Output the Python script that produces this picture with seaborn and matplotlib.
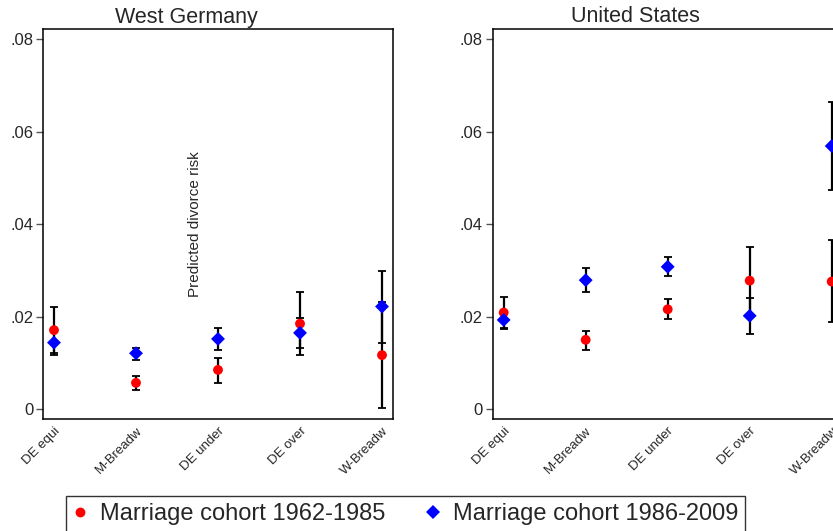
import pandas as pd
import numpy as np
from matplotlib import pyplot as plt
import seaborn as sb
import matplotlib
matplotlib.use('Agg')

categories = ["DE equi", "M-Breadw", "DE under", "DE over", "W-Breadw"]
cohorts = ["Marriage cohort 1962-1985", "Marriage cohort 1986-2009"]
countries = ["West Germany", "United States"]

# point estimates and 95% CI bounds
wg_early = [0.0171, 0.0057, 0.0085, 0.0185, 0.0117]
wg_early_lo = [0.0122, 0.0041, 0.0057, 0.0117, 0.0003]
wg_early_hi = [0.0220, 0.0072, 0.0111, 0.0253, 0.0231]
wg_late = [0.0144, 0.0121, 0.0152, 0.0165, 0.0222]
wg_late_lo = [0.0117, 0.0106, 0.0127, 0.0132, 0.0143]
wg_late_hi = [0.0171, 0.0133, 0.0176, 0.0198, 0.0299]

us_early = [0.0209, 0.0150, 0.0216, 0.0278, 0.0276]
us_early_lo = [0.0175, 0.0129, 0.0194, 0.0205, 0.0189]
us_early_hi = [0.0243, 0.0170, 0.0238, 0.0351, 0.0365]
us_late = [0.0193, 0.0279, 0.0308, 0.0202, 0.0569]
us_late_lo = [0.0174, 0.0253, 0.0288, 0.0163, 0.0475]
us_late_hi = [0.0212, 0.0305, 0.0329, 0.0240, 0.0664]

yticks = [0, 0.02, 0.04, 0.06, 0.08]
yticklabels = ["0", ".02", ".04", ".06", ".08"]

rows = []
for country, est in [(countries[0], [(wg_early, wg_early_lo, wg_early_hi), (wg_late, wg_late_lo, wg_late_hi)]),
                     (countries[1], [(us_early, us_early_lo, us_early_hi), (us_late, us_late_lo, us_late_hi)])]:
    for coh, (m, lo, hi) in zip(cohorts, est):
        for c, v, l, h in zip(categories, m, lo, hi):
            rows.append(dict(country=country, cohort=coh, cat=c, risk=v, lo=l, hi=h))
df = pd.DataFrame(rows)
df['pos'] = df.cat.apply(lambda x: categories.index(x))

sb.set_style("white")
plt.rcParams['font.family'] = ['Liberation Sans', 'DejaVu Sans']

W, H = 833, 531
fig = plt.figure(figsize=(W / 100, H / 100), dpi=100)

lefts = [43, 492.7]
axes = []
for i, country in enumerate(countries):
    ax = fig.add_axes([lefts[i] / W, 1 - 419.3 / H, 350 / W, (419.3 - 29) / H])
    axes.append(ax)
    sub = df[df.country == country]

    for coh in cohorts:
        s = sub[sub.cohort == coh]
        ax.errorbar(s.pos, s.risk,
                    yerr=[s.risk - s.lo, s.hi - s.risk],
                    fmt='none', ecolor='black', elinewidth=1.6,
                    capsize=3.2, capthick=1.3, zorder=1)

    sb.scatterplot(data=sub, x='pos', y='risk',
                   hue='cohort', style='cohort',
                   palette={cohorts[0]: '#ff0000', cohorts[1]: '#0000ff'},
                   markers={cohorts[0]: 'o', cohorts[1]: 'D'},
                   s=50, linewidth=0, ax=ax, zorder=3)

    ax.set_xlim(-0.134, 4.134)
    ax.set_ylim(-0.00218, 0.0822)
    ax.set_xticks(range(len(categories)))
    ax.set_xticklabels(categories, rotation=45, ha='right', va='top',
                       rotation_mode='anchor', fontsize=9.5)
    ax.set_yticks(yticks)
    ax.set_yticklabels(yticklabels, fontsize=12)
    ax.tick_params(axis='x', length=0, pad=4)
    ax.tick_params(axis='y', length=5, width=1, color='#555555', pad=2, left=True)
    ax.set(xlabel='', ylabel='')
    for sp in ax.spines.values():
        sp.set_color('black')
        sp.set_linewidth(1.1)

    fig.text((lefts[i] + 175 - 32) / W, 1 - 17 / H, country,
             fontsize=15.5, ha='center', va='center')

handles, labels = axes[0].get_legend_handles_labels()
for ax in axes:
    ax.get_legend().remove()

fig.text(195 / W, 1 - 224 / H, "Predicted divorce risk", rotation=90,
         ha='center', va='center', fontsize=11)

leg = fig.legend(handles, labels, loc='upper left',
                 bbox_to_anchor=(65.7 / W, 1 - 495.7 / H),
                 ncol=2, fontsize=17, frameon=True, fancybox=False,
                 borderaxespad=0, borderpad=0.3, handlelength=0.6,
                 handletextpad=0.55, columnspacing=1.7, markerscale=1.0)
leg.get_frame().set_edgecolor('black')
leg.get_frame().set_linewidth(1.0)

fig.savefig('out.png', dpi=100)
